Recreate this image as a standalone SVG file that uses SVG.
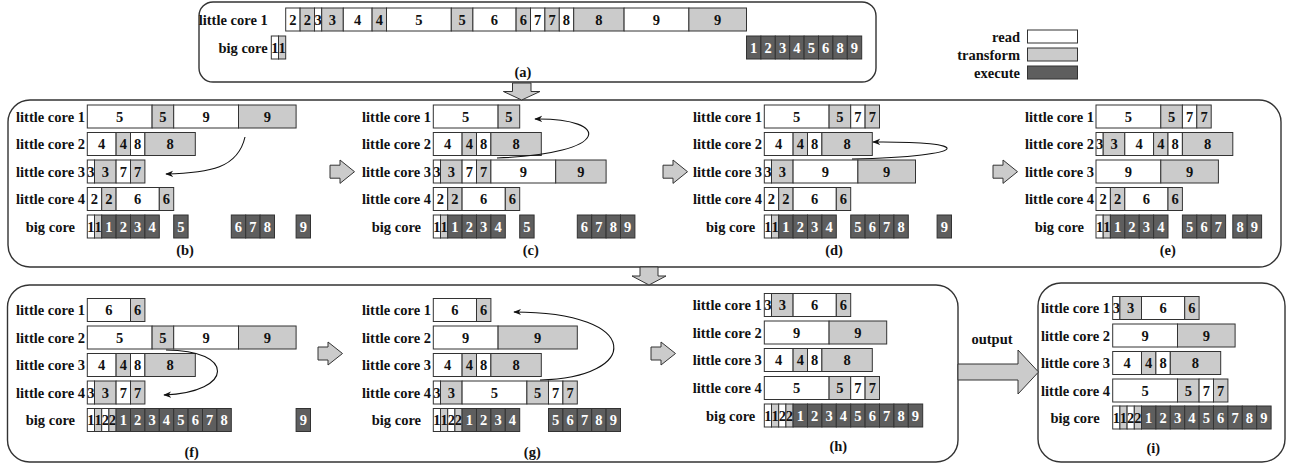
<svg xmlns="http://www.w3.org/2000/svg" xmlns:xlink="http://www.w3.org/1999/xlink" width="1289" height="465" viewBox="0 0 1289 465">
<style>
text{font-family:"Liberation Serif","Times New Roman",serif;font-weight:bold;font-size:14.5px;text-anchor:middle;fill:#111}
.lb{text-anchor:end}
.w{fill:#fff}
.r{fill:#fff;stroke:#333;stroke-width:1}
.t{fill:#cbcbcb;stroke:#333;stroke-width:1}
.e{fill:#5e5e5e;stroke:#333;stroke-width:1}
.pn{fill:none;stroke:#333;stroke-width:1.4}
.ba{fill:#cbcbcb;stroke:#333;stroke-width:1}
.cn{fill:none;stroke:#111;stroke-width:1.1;marker-end:url(#ah)}
</style>
<defs>
<marker id="ah" viewBox="0 0 10 10" refX="9" refY="5" markerWidth="8" markerHeight="8" markerUnits="userSpaceOnUse" orient="auto"><path d="M0,1 L10,5 L0,9 L3,5 Z" fill="#111"/></marker>
<g id="R5599"><rect class="r" x="0" width="64.8" height="23"/><text x="32.4" y="16.5">5</text><rect class="t" x="64.8" width="21.6" height="23"/><text x="75.6" y="16.5">5</text><rect class="r" x="86.4" width="64.8" height="23"/><text x="118.8" y="16.5">9</text><rect class="t" x="151.2" width="57.6" height="23"/><text x="180" y="16.5">9</text></g>
<g id="R4488"><rect class="r" x="0" width="28.8" height="23"/><text x="14.4" y="16.5">4</text><rect class="t" x="28.8" width="14.4" height="23"/><text x="36" y="16.5">4</text><rect class="r" x="43.2" width="14.4" height="23"/><text x="50.4" y="16.5">8</text><rect class="t" x="57.6" width="50.4" height="23"/><text x="82.8" y="16.5">8</text></g>
<g id="R3377"><rect class="r" x="0" width="7.2" height="23"/><text x="3.6" y="16.5">3</text><rect class="t" x="7.2" width="21.6" height="23"/><text x="18" y="16.5">3</text><rect class="r" x="28.8" width="14.4" height="23"/><text x="36" y="16.5">7</text><rect class="t" x="43.2" width="14.4" height="23"/><text x="50.4" y="16.5">7</text></g>
<g id="R2266"><rect class="r" x="0" width="14.4" height="23"/><text x="7.2" y="16.5">2</text><rect class="t" x="14.4" width="14.4" height="23"/><text x="21.6" y="16.5">2</text><rect class="r" x="28.8" width="43.2" height="23"/><text x="50.4" y="16.5">6</text><rect class="t" x="72" width="14.4" height="23"/><text x="79.2" y="16.5">6</text></g>
<g id="R5577"><rect class="r" x="0" width="64.8" height="23"/><text x="32.4" y="16.5">5</text><rect class="t" x="64.8" width="21.6" height="23"/><text x="75.6" y="16.5">5</text><rect class="r" x="86.4" width="14.4" height="23"/><text x="93.6" y="16.5">7</text><rect class="t" x="100.8" width="14.4" height="23"/><text x="108" y="16.5">7</text></g>
<g id="R3366"><rect class="r" x="0" width="7.2" height="23"/><text x="3.6" y="16.5">3</text><rect class="t" x="7.2" width="21.6" height="23"/><text x="18" y="16.5">3</text><rect class="r" x="28.8" width="43.2" height="23"/><text x="50.4" y="16.5">6</text><rect class="t" x="72" width="14.4" height="23"/><text x="79.2" y="16.5">6</text></g>
<g id="R99"><rect class="r" x="0" width="64.8" height="23"/><text x="32.4" y="16.5">9</text><rect class="t" x="64.8" width="57.6" height="23"/><text x="93.6" y="16.5">9</text></g>
<g id="R66"><rect class="r" x="0" width="43.2" height="23"/><text x="21.6" y="16.5">6</text><rect class="t" x="43.2" width="14.4" height="23"/><text x="50.4" y="16.5">6</text></g>
<g id="B11"><rect class="r" x="0" width="7.2" height="23"/><text x="3.6" y="16.5">1</text><rect class="t" x="7.2" width="7.2" height="23"/><text x="10.8" y="16.5">1</text></g>
<g id="B1122"><use xlink:href="#B11"/><rect class="r" x="14.4" width="7.2" height="23"/><text x="18" y="16.5">2</text><rect class="t" x="21.6" width="7.2" height="23"/><text x="25.2" y="16.5">2</text></g>
<g id="E1234"><rect class="e" x="0" width="14.4" height="23"/><text class="w" x="7.2" y="16.5">1</text><rect class="e" x="14.4" width="14.4" height="23"/><text class="w" x="21.6" y="16.5">2</text><rect class="e" x="28.8" width="14.4" height="23"/><text class="w" x="36" y="16.5">3</text><rect class="e" x="43.2" width="14.4" height="23"/><text class="w" x="50.4" y="16.5">4</text></g>
<g id="E5678"><rect class="e" x="0" width="14.4" height="23"/><text class="w" x="7.2" y="16.5">5</text><rect class="e" x="14.4" width="14.4" height="23"/><text class="w" x="21.6" y="16.5">6</text><rect class="e" x="28.8" width="14.4" height="23"/><text class="w" x="36" y="16.5">7</text><rect class="e" x="43.2" width="14.4" height="23"/><text class="w" x="50.4" y="16.5">8</text></g>
</defs>

<!-- frames -->
<g id="frames">
<rect class="pn" x="199" y="2" width="677" height="80" rx="14"/>
<rect class="pn" x="8" y="100" width="1273" height="167" rx="22"/>
<rect class="pn" x="7.5" y="285" width="950.5" height="177" rx="22"/>
<rect class="pn" x="1038" y="283" width="247" height="179" rx="23"/>
</g>

<!-- legend -->
<g id="legend">
<text class="lb" x="1020" y="41.5">read</text>
<text class="lb" x="1020" y="60">transform</text>
<text class="lb" x="1020" y="78">execute</text>
<rect class="r" x="1027.5" y="30" width="50" height="13"/>
<rect class="t" x="1027.5" y="48" width="50" height="13"/>
<rect class="e" x="1027.5" y="66" width="50" height="13"/>
</g>

<!-- panel a -->
<g id="panel-a" transform="translate(285.7,0)">
<g transform="translate(0,8)">
<text class="lb" x="-18" y="16.5">little core 1</text>
<rect class="r" x="0" width="14.4" height="23"/><text x="7.2" y="16.5">2</text>
<rect class="t" x="14.4" width="14.4" height="23"/><text x="21.6" y="16.5">2</text>
<rect class="r" x="28.8" width="7.2" height="23"/><text x="32.4" y="16.5">3</text>
<rect class="t" x="36" width="21.6" height="23"/><text x="46.8" y="16.5">3</text>
<rect class="r" x="57.6" width="28.8" height="23"/><text x="72" y="16.5">4</text>
<rect class="t" x="86.4" width="14.4" height="23"/><text x="93.6" y="16.5">4</text>
<rect class="r" x="100.8" width="64.8" height="23"/><text x="133.2" y="16.5">5</text>
<rect class="t" x="165.6" width="21.6" height="23"/><text x="176.4" y="16.5">5</text>
<rect class="r" x="187.2" width="43.2" height="23"/><text x="208.8" y="16.5">6</text>
<rect class="t" x="230.4" width="14.4" height="23"/><text x="237.6" y="16.5">6</text>
<rect class="r" x="244.8" width="14.4" height="23"/><text x="252" y="16.5">7</text>
<rect class="t" x="259.2" width="14.4" height="23"/><text x="266.4" y="16.5">7</text>
<rect class="r" x="273.6" width="14.4" height="23"/><text x="280.8" y="16.5">8</text>
<rect class="t" x="288" width="50.4" height="23"/><text x="313.2" y="16.5">8</text>
<rect class="r" x="338.4" width="64.8" height="23"/><text x="370.8" y="16.5">9</text>
<rect class="t" x="403.2" width="57.6" height="23"/><text x="432" y="16.5">9</text>
</g>
<g transform="translate(0,36)">
<text class="lb" x="-18" y="16.5">big core</text>
<use xlink:href="#B11" x="-14.4"/>
<use xlink:href="#E1234" x="460.8"/>
<rect class="e" x="518.4" width="14.4" height="23"/><text class="w" x="525.6" y="16.5">5</text>
<rect class="e" x="532.8" width="14.4" height="23"/><text class="w" x="540" y="16.5">6</text>
<rect class="e" x="547.2" width="14.4" height="23"/><text class="w" x="554.4" y="16.5">8</text>
<rect class="e" x="561.6" width="14.4" height="23"/><text class="w" x="568.8" y="16.5">9</text>
</g>
</g>
<text x="523" y="77">(a)</text>

<!-- panel b -->
<g id="panel-b" transform="translate(87.3,0)">
<g transform="translate(0,105)"><text class="lb" x="-2.3" y="16.5">little core 1</text><use xlink:href="#R5599"/></g>
<g transform="translate(0,132.5)"><text class="lb" x="-2.3" y="16.5">little core 2</text><use xlink:href="#R4488"/></g>
<g transform="translate(0,160)"><text class="lb" x="-2.3" y="16.5">little core 3</text><use xlink:href="#R3377"/></g>
<g transform="translate(0,187.5)"><text class="lb" x="-2.3" y="16.5">little core 4</text><use xlink:href="#R2266"/></g>
<g transform="translate(0,215)"><text class="lb" x="-12.3" y="16.5">big core</text><use xlink:href="#B11"/><use xlink:href="#E1234" x="14.4"/>
<rect class="e" x="86.4" width="14.4" height="23"/><text class="w" x="93.6" y="16.5">5</text>
<rect class="e" x="144" width="14.4" height="23"/><text class="w" x="151.2" y="16.5">6</text>
<rect class="e" x="158.4" width="14.4" height="23"/><text class="w" x="165.6" y="16.5">7</text>
<rect class="e" x="172.8" width="14.4" height="23"/><text class="w" x="180" y="16.5">8</text>
<rect class="e" x="208.8" width="14.4" height="23"/><text class="w" x="216" y="16.5">9</text>
</g>
</g>
<text x="185" y="255">(b)</text>

<!-- panel c -->
<g id="panel-c" transform="translate(433.3,0)">
<g transform="translate(0,105)"><text class="lb" x="-2.3" y="16.5">little core 1</text>
<rect class="r" x="0" width="64.8" height="23"/><text x="32.4" y="16.5">5</text><rect class="t" x="64.8" width="21.6" height="23"/><text x="75.6" y="16.5">5</text></g>
<g transform="translate(0,132.5)"><text class="lb" x="-2.3" y="16.5">little core 2</text><use xlink:href="#R4488"/></g>
<g transform="translate(0,160)"><text class="lb" x="-2.3" y="16.5">little core 3</text><use xlink:href="#R3377"/>
<rect class="r" x="57.6" width="64.8" height="23"/><text x="90" y="16.5">9</text><rect class="t" x="122.4" width="50.4" height="23"/><text x="147.6" y="16.5">9</text></g>
<g transform="translate(0,187.5)"><text class="lb" x="-2.3" y="16.5">little core 4</text><use xlink:href="#R2266"/></g>
<g transform="translate(0,215)"><text class="lb" x="-12.3" y="16.5">big core</text><use xlink:href="#B11"/><use xlink:href="#E1234" x="14.4"/>
<rect class="e" x="86.4" width="14.4" height="23"/><text class="w" x="93.6" y="16.5">5</text>
<rect class="e" x="144" width="14.4" height="23"/><text class="w" x="151.2" y="16.5">6</text>
<rect class="e" x="158.4" width="14.4" height="23"/><text class="w" x="165.6" y="16.5">7</text>
<rect class="e" x="172.8" width="14.4" height="23"/><text class="w" x="180" y="16.5">8</text>
<rect class="e" x="187.2" width="14.4" height="23"/><text class="w" x="194.4" y="16.5">9</text>
</g>
</g>
<text x="530.7" y="255">(c)</text>

<!-- panel d -->
<g id="panel-d" transform="translate(764.3,0)">
<g transform="translate(0,105)"><text class="lb" x="-2.3" y="16.5">little core 1</text><use xlink:href="#R5577"/></g>
<g transform="translate(0,132.5)"><text class="lb" x="-2.3" y="16.5">little core 2</text><use xlink:href="#R4488"/></g>
<g transform="translate(0,160)"><text class="lb" x="-2.3" y="16.5">little core 3</text>
<rect class="r" x="0" width="7.2" height="23"/><text x="3.6" y="16.5">3</text><rect class="t" x="7.2" width="21.6" height="23"/><text x="18" y="16.5">3</text>
<rect class="r" x="28.8" width="64.8" height="23"/><text x="61.2" y="16.5">9</text><rect class="t" x="93.6" width="57.6" height="23"/><text x="122.4" y="16.5">9</text></g>
<g transform="translate(0,187.5)"><text class="lb" x="-2.3" y="16.5">little core 4</text><use xlink:href="#R2266"/></g>
<g transform="translate(0,215)"><text class="lb" x="-9" y="16.5">big core</text><use xlink:href="#B11"/><use xlink:href="#E1234" x="14.4"/><use xlink:href="#E5678" x="86.4"/>
<rect class="e" x="172.8" width="14.4" height="23"/><text class="w" x="180" y="16.5">9</text>
</g>
</g>
<text x="834" y="255">(d)</text>

<!-- panel e -->
<g id="panel-e" transform="translate(1096,0)">
<g transform="translate(0,105)"><text class="lb" x="-2" y="16.5">little core 1</text><use xlink:href="#R5577"/></g>
<g transform="translate(0,132.5)"><text class="lb" x="-2" y="16.5">little core 2</text>
<rect class="r" x="0" width="7.2" height="23"/><text x="3.6" y="16.5">3</text><rect class="t" x="7.2" width="21.6" height="23"/><text x="18" y="16.5">3</text>
<use xlink:href="#R4488" x="28.8"/></g>
<g transform="translate(0,160)"><text class="lb" x="-2" y="16.5">little core 3</text><use xlink:href="#R99"/></g>
<g transform="translate(0,187.5)"><text class="lb" x="-2" y="16.5">little core 4</text><use xlink:href="#R2266"/></g>
<g transform="translate(0,215)"><text class="lb" x="-12" y="16.5">big core</text><use xlink:href="#B11"/><use xlink:href="#E1234" x="14.4"/>
<rect class="e" x="86.4" width="14.4" height="23"/><text class="w" x="93.6" y="16.5">5</text>
<rect class="e" x="100.8" width="14.4" height="23"/><text class="w" x="108" y="16.5">6</text>
<rect class="e" x="115.2" width="14.4" height="23"/><text class="w" x="122.4" y="16.5">7</text>
<rect class="e" x="136.8" width="14.4" height="23"/><text class="w" x="144" y="16.5">8</text>
<rect class="e" x="151.2" width="14.4" height="23"/><text class="w" x="158.4" y="16.5">9</text>
</g>
</g>
<text x="1167.7" y="255">(e)</text>

<!-- panel f -->
<g id="panel-f" transform="translate(87.3,0)">
<g transform="translate(0,298.5)"><text class="lb" x="-2.3" y="16.5">little core 1</text><use xlink:href="#R66"/></g>
<g transform="translate(0,326)"><text class="lb" x="-2.3" y="16.5">little core 2</text><use xlink:href="#R5599"/></g>
<g transform="translate(0,353.5)"><text class="lb" x="-2.3" y="16.5">little core 3</text><use xlink:href="#R4488"/></g>
<g transform="translate(0,381)"><text class="lb" x="-2.3" y="16.5">little core 4</text><use xlink:href="#R3377"/></g>
<g transform="translate(0,408.5)"><text class="lb" x="-12.3" y="16.5">big core</text><use xlink:href="#B1122"/><use xlink:href="#E1234" x="28.8"/><use xlink:href="#E5678" x="86.4"/>
<rect class="e" x="208.8" width="14.4" height="23"/><text class="w" x="216" y="16.5">9</text>
</g>
</g>
<text x="191.7" y="457">(f)</text>

<!-- panel g -->
<g id="panel-g" transform="translate(433.3,0)">
<g transform="translate(0,298.5)"><text class="lb" x="-2.3" y="16.5">little core 1</text><use xlink:href="#R66"/></g>
<g transform="translate(0,326)"><text class="lb" x="-2.3" y="16.5">little core 2</text>
<rect class="r" x="0" width="64.8" height="23"/><text x="32.4" y="16.5">9</text><rect class="t" x="64.8" width="79.2" height="23"/><text x="104.4" y="16.5">9</text></g>
<g transform="translate(0,353.5)"><text class="lb" x="-2.3" y="16.5">little core 3</text><use xlink:href="#R4488"/></g>
<g transform="translate(0,381)"><text class="lb" x="-2.3" y="16.5">little core 4</text>
<rect class="r" x="0" width="7.2" height="23"/><text x="3.6" y="16.5">3</text><rect class="t" x="7.2" width="21.6" height="23"/><text x="18" y="16.5">3</text>
<use xlink:href="#R5577" x="28.8"/></g>
<g transform="translate(0,408.5)"><text class="lb" x="-12.3" y="16.5">big core</text><use xlink:href="#B1122"/><use xlink:href="#E1234" x="28.8"/><use xlink:href="#E5678" x="115.2"/>
<rect class="e" x="172.8" width="14.4" height="23"/><text class="w" x="180" y="16.5">9</text>
</g>
</g>
<text x="532.3" y="457">(g)</text>

<!-- panel h -->
<g id="panel-h" transform="translate(764.3,0)">
<g transform="translate(0,293.5)"><text class="lb" x="-2.6" y="16.5">little core 1</text><use xlink:href="#R3366"/></g>
<g transform="translate(0,321)"><text class="lb" x="-2.6" y="16.5">little core 2</text><use xlink:href="#R99"/></g>
<g transform="translate(0,348.5)"><text class="lb" x="-2.6" y="16.5">little core 3</text><use xlink:href="#R4488"/></g>
<g transform="translate(0,376.5)"><text class="lb" x="-2.6" y="16.5">little core 4</text><use xlink:href="#R5577"/></g>
<g transform="translate(0,404)"><text class="lb" x="-9" y="16.5">big core</text><use xlink:href="#B1122"/><use xlink:href="#E1234" x="28.8"/><use xlink:href="#E5678" x="86.4"/>
<rect class="e" x="144" width="14.4" height="23"/><text class="w" x="151.2" y="16.5">9</text>
</g>
</g>
<text x="838.3" y="451">(h)</text>

<!-- panel i -->
<g id="panel-i" transform="translate(1112.7,0)">
<g transform="translate(0,296.5)"><text class="lb" x="-2.7" y="16.5">little core 1</text><use xlink:href="#R3366"/></g>
<g transform="translate(0,324)"><text class="lb" x="-2.7" y="16.5">little core 2</text><use xlink:href="#R99"/></g>
<g transform="translate(0,351.5)"><text class="lb" x="-2.7" y="16.5">little core 3</text><use xlink:href="#R4488"/></g>
<g transform="translate(0,379)"><text class="lb" x="-2.7" y="16.5">little core 4</text><use xlink:href="#R5577"/></g>
<g transform="translate(0,406)"><text class="lb" x="-13" y="16.5">big core</text><use xlink:href="#B1122"/><use xlink:href="#E1234" x="28.8"/><use xlink:href="#E5678" x="86.4"/>
<rect class="e" x="144" width="14.4" height="23"/><text class="w" x="151.2" y="16.5">9</text>
</g>
</g>
<text x="1153.3" y="453">(i)</text>

<!-- block arrows -->
<g id="flow-arrows">
<polygon class="ba" points="512.5,83 531,83 531,91.5 540,91.5 521.7,100 503.4,91.5 512.5,91.5"/>
<polygon class="ba" points="640,267 658,267 658,276 666,276 649,285 632,276 640,276"/>
<polygon class="ba" points="330,165.2 340,165.2 340,160 354.5,171.7 340,183.4 340,178.2 330,178.2"/>
<polygon class="ba" points="663,165.2 673,165.2 673,160 687.5,171.7 673,183.4 673,178.2 663,178.2"/>
<polygon class="ba" points="993,165.2 1003,165.2 1003,160 1017.5,171.7 1003,183.4 1003,178.2 993,178.2"/>
<polygon class="ba" points="318,347 328,347 328,342 342.5,353.5 328,365 328,360 318,360"/>
<polygon class="ba" points="651,347 661,347 661,342 675.5,353.5 661,365 661,360 651,360"/>
<polygon class="ba" points="958,364 1018,364 1018,350 1038.5,372 1018,394 1018,380 958,380"/>
<text x="992" y="344">output</text>
</g>

<!-- connectors -->
<g id="connectors">
<path class="cn" d="M245,137 C238,168 210,173 166,174"/>
<path class="cn" d="M497,158 C612,154 612,118 535,119"/>
<path class="cn" d="M852,159 C975,156 975,141 873,142"/>
<path class="cn" d="M166,350 C235,350 235,392 164,395"/>
<path class="cn" d="M540,380 C640,378 645,312 514,312"/>
</g>
</svg>
